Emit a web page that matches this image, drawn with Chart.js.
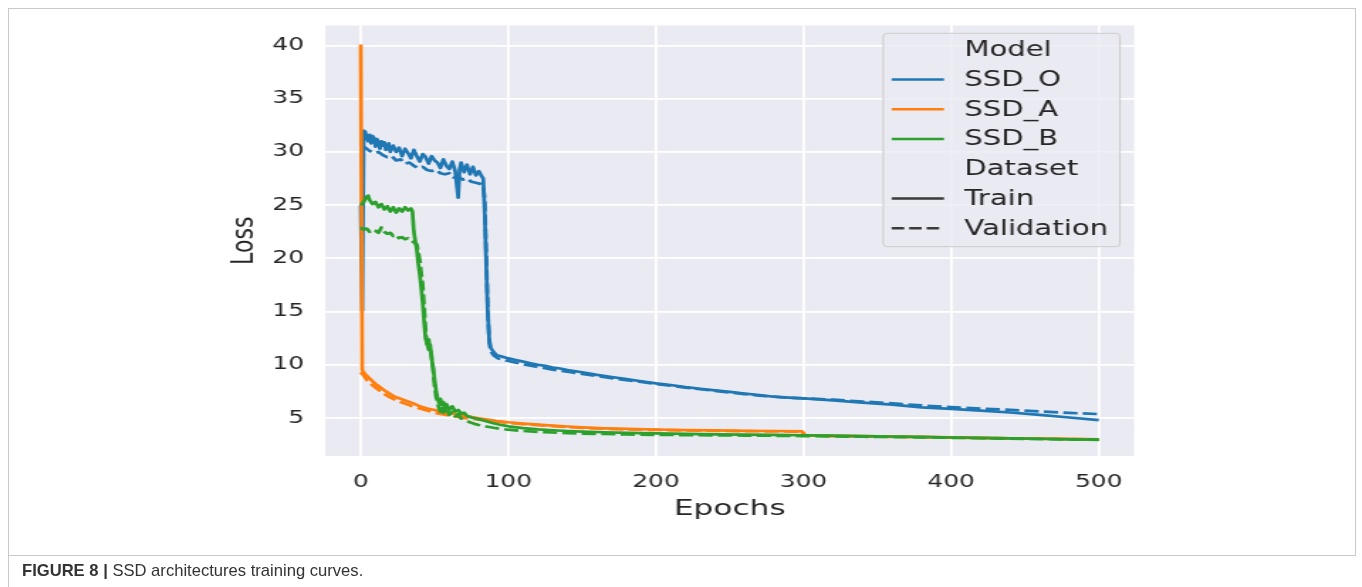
<!DOCTYPE html>
<html>
<head>
<meta charset="utf-8">
<script src="https://cdn.jsdelivr.net/npm/chart.js@4.4.1/dist/chart.umd.min.js"></script>
<style>
  body { margin: 0; background: #fff; width: 1362px; height: 587px; overflow: hidden; position: relative; }
  #frame { position: absolute; left: 8px; top: 8px; width: 1346px; height: 546px; border: 1px solid #c9c9c9; }
  #leftline { position: absolute; left: 8px; top: 555px; width: 1px; height: 32px; background: #c9c9c9; }
  #wrap { position: absolute; left: 0; top: 0; width: 959px; height: 587px; transform: scaleX(1.4202); transform-origin: 0 0; }
  #cap { position: absolute; left: 22px; top: 561px; font: 16.6px "Liberation Sans", Arial, sans-serif; color: #333; }
</style>
</head>
<body>
<div id="frame"></div>
<div id="leftline"></div>
<div id="wrap"><canvas id="lossChart"></canvas></div>
<div id="cap"><b>FIGURE 8 |</b> SSD architectures training curves.</div>
<script>
// tick labels
const xTicks = [0, 100, 200, 300, 400, 500];
const yTicks = [5, 10, 15, 20, 25, 30, 35, 40];

// SSD_O
const ssdOTrainEpochs = [0,1,2,3,4,5,6,7,8,9,10,11,12,13,14,15,16,17,18,19,20,22,24,26,28,30,32,34,36,38,40,42,44,46,48,50,52,54,56,58,60,62,64,66,67,68,70,72,74,76,78,80,82,83,84,85,86,87,88,90,92,95,100,105,110,115,120,125,130,135,140,150,160,170,180,190,200,210,220,230,240,250,260,270,280,290,300,320,340,360,380,400,420,440,460,480,500];
const ssdOTrainLoss = [25.0,15.1,32.0,31.9,31.4,31.0,31.6,30.8,31.5,31.3,30.5,31.2,30.9,30.3,31.0,30.6,30.9,30.2,30.4,30.8,30.0,30.6,30.0,30.4,29.6,30.3,29.9,29.4,30.2,29.6,29.1,29.8,29.5,28.9,29.6,29.2,29.0,28.5,29.3,28.7,28.4,29.1,28.2,25.7,28.4,29.0,28.1,28.8,27.9,28.6,27.8,28.2,27.7,27.5,24.2,19.5,15.0,12.5,11.6,11.2,10.9,10.8,10.6,10.45,10.3,10.15,10.0,9.9,9.75,9.65,9.5,9.3,9.05,8.85,8.65,8.45,8.25,8.1,7.9,7.75,7.6,7.45,7.3,7.15,7.0,6.92,6.85,6.65,6.45,6.25,6.0,5.85,5.7,5.52,5.3,5.05,4.8];
const ssdOValEpochs = [0,3,6,9,12,15,18,21,24,27,30,33,36,39,42,45,48,51,54,57,60,63,66,69,72,75,78,81,83,84,85,86,87,88,90,93,96,100,110,120,130,140,150,160,170,180,190,200,210,220,230,240,250,260,270,280,290,300,320,340,360,380,400,420,440,460,480,500];
const ssdOValLoss = [30.6,30.4,30.1,29.9,30.0,29.7,29.5,29.6,29.2,29.3,28.9,29.0,28.7,28.5,28.6,28.3,28.2,28.3,28.0,27.9,28.0,27.6,27.7,27.4,27.5,27.2,27.1,27.0,26.8,25.5,20.5,15.5,12.2,11.3,10.9,10.6,10.5,10.35,10.05,9.8,9.55,9.35,9.15,8.95,8.75,8.55,8.4,8.2,8.05,7.85,7.7,7.55,7.4,7.25,7.1,7.0,6.9,6.85,6.72,6.55,6.38,6.18,6.02,5.88,5.76,5.62,5.48,5.37];

// SSD_A
const ssdATrainEpochs = [0,1,3,5,8,11,14,17,20,23,26,29,32,36,40,45,50,55,60,65,70,75,80,86,92,100,110,120,130,140,150,165,180,200,220,240,260,280,299,301,320,340,360,380,400,420,440,460,480,500];
const ssdATrainLoss = [40.1,9.5,9.1,8.85,8.45,8.1,7.8,7.5,7.25,7.0,6.85,6.7,6.55,6.35,6.1,5.9,5.75,5.6,5.45,5.35,5.2,5.1,4.98,4.85,4.72,4.6,4.48,4.38,4.28,4.2,4.12,4.03,3.97,3.92,3.87,3.83,3.8,3.78,3.75,3.38,3.33,3.3,3.26,3.22,3.18,3.14,3.1,3.07,3.03,3.0];
const ssdAValEpochs = [0,2,4,7,10,13,16,19,22,25,28,31,35,40,45,50,55,60,65,70,80,90,100,110,120,130,140,150,165,180,200,220,240,260,280,299,301,320,340,360,380,400,420,440,460,480,500];
const ssdAValLoss = [9.3,9.0,8.6,8.2,7.85,7.55,7.25,7.0,6.8,6.6,6.45,6.3,6.1,5.9,5.7,5.5,5.35,5.25,5.12,5.0,4.85,4.7,4.55,4.43,4.33,4.24,4.16,4.08,4.0,3.93,3.88,3.84,3.8,3.77,3.74,3.72,3.35,3.3,3.27,3.23,3.2,3.16,3.12,3.08,3.05,3.01,2.98];

// SSD_B
const ssdBTrainEpochs = [0,2,4,5,6,8,10,12,14,16,18,20,22,24,26,28,30,32,34,35,36,37,38,39,40,41,42,43,44,45,46,47,48,49,50,51,52,53,54,55,56,57,58,60,62,64,66,68,70,72,75,78,81,85,90,95,100,110,120,130,140,150,165,180,200,220,240,260,280,300,320,340,360,380,400,420,440,460,480,500];
const ssdBTrainLoss = [25.0,25.3,25.8,25.9,25.5,25.1,25.3,24.8,25.1,24.6,24.9,24.4,24.8,24.3,24.7,24.4,24.8,24.5,24.7,24.4,22.5,21.6,20.8,19.5,18.5,17.2,15.8,13.9,12.4,12.0,11.4,11.9,10.6,9.8,8.6,7.6,6.9,6.4,6.8,6.2,6.5,5.9,6.3,5.8,6.1,5.6,5.75,5.4,5.5,5.2,5.05,4.95,4.85,4.7,4.5,4.35,4.22,4.05,3.93,3.85,3.78,3.72,3.66,3.6,3.55,3.5,3.47,3.44,3.41,3.38,3.34,3.3,3.26,3.22,3.17,3.13,3.09,3.05,3.0,2.97];
const ssdBValEpochs = [0,2,4,6,8,10,12,14,16,18,20,22,24,26,28,30,32,34,36,38,39,40,41,42,43,44,45,46,47,48,49,50,51,52,53,54,55,56,58,60,62,64,66,68,71,74,77,80,85,90,95,100,110,120,130,140,150,165,180,200,220,240,260,280,300,320,340,360,380,400,420,440,460,480,500];
const ssdBValLoss = [22.9,22.7,22.8,22.5,22.7,22.6,22.4,22.9,22.5,22.3,22.4,22.1,22.2,21.9,22.0,21.8,21.9,21.7,21.5,21.3,20.6,19.8,18.6,17.5,15.3,13.2,11.8,12.4,11.5,10.8,9.6,8.0,7.0,6.5,5.9,5.6,6.1,5.5,6.0,5.3,5.6,5.15,5.35,4.95,4.8,4.6,4.45,4.35,4.2,4.08,3.98,3.9,3.78,3.7,3.64,3.58,3.54,3.5,3.45,3.42,3.39,3.37,3.35,3.33,3.3,3.27,3.24,3.21,3.18,3.14,3.1,3.06,3.02,2.99,2.95];

const blue = '#1f77b4', orange = '#ff7f0e', green = '#2ca02c';
const textColor = '#262626';
const SX = 1362 / 959;

function pts(ep, loss) {
  return ep.map((e, i) => ({ x: e, y: loss[i] }));
}

function line(label, ep, loss, color, dashed, order) {
  return {
    label: label,
    data: pts(ep, loss),
    borderColor: color,
    backgroundColor: color,
    borderWidth: 2.7,
    borderDash: dashed ? [10, 3.7] : [],
    borderJoinStyle: 'round',
    pointRadius: 0,
    tension: 0,
    order: order
  };
}

const plotBg = {
  id: 'plotBg',
  beforeDraw(chart) {
    const { ctx, chartArea: a } = chart;
    ctx.save();
    ctx.fillStyle = '#EAEAF2';
    ctx.fillRect(a.left, a.top, a.right - a.left, a.bottom - a.top);
    ctx.restore();
  }
};

// seaborn-like legend with section titles
const legendItems = [
  { text: 'Model' },
  { text: 'SSD_O', color: blue },
  { text: 'SSD_A', color: orange },
  { text: 'SSD_B', color: green },
  { text: 'Dataset' },
  { text: 'Train', color: '#3a3a3a' },
  { text: 'Validation', color: '#3a3a3a', dash: true }
];

const legendBox = {
  id: 'legendBox',
  afterDraw(chart) {
    const ctx = chart.ctx;
    const bx = 883.3 / SX, by = 33.3, bw = (1120 - 883.3) / SX, bh = 213.4;
    ctx.save();
    ctx.beginPath();
    ctx.roundRect(bx, by, bw, bh, 3);
    ctx.fillStyle = 'rgba(234,234,242,0.8)';
    ctx.fill();
    ctx.strokeStyle = '#cccccc';
    ctx.lineWidth = 1;
    ctx.stroke();
    ctx.font = '20.5px "DejaVu Sans"';
    ctx.textBaseline = 'middle';
    ctx.fillStyle = textColor;
    const x0 = 891.7 / SX, x1 = 944 / SX, tx = 964.3 / SX;
    legendItems.forEach((it, i) => {
      const y = 49.8 + i * 29.75;
      if (it.color) {
        ctx.beginPath();
        ctx.setLineDash(it.dash ? [8.8, 3.5] : []);
        ctx.strokeStyle = it.color;
        ctx.lineWidth = 2.4;
        ctx.moveTo(x0, y);
        ctx.lineTo(x1, y);
        ctx.stroke();
      }
      ctx.setLineDash([]);
      ctx.fillText(it.text, tx, y + 1);
    });
    ctx.restore();
  }
};

const config = {
  type: 'line',
  data: {
    datasets: [
      line('SSD_O Train', ssdOTrainEpochs, ssdOTrainLoss, blue, false, 6),
      line('SSD_O Validation', ssdOValEpochs, ssdOValLoss, blue, true, 5),
      line('SSD_A Train', ssdATrainEpochs, ssdATrainLoss, orange, false, 4),
      line('SSD_A Validation', ssdAValEpochs, ssdAValLoss, orange, true, 3),
      line('SSD_B Train', ssdBTrainEpochs, ssdBTrainLoss, green, false, 2),
      line('SSD_B Validation', ssdBValEpochs, ssdBValLoss, green, true, 1)
    ]
  },
  options: {
    responsive: true,
    maintainAspectRatio: false,
    animation: false,
    layout: { padding: { left: 150, right: 160.4, top: 25, bottom: 64 } },
    plugins: {
      legend: { display: false },
      tooltip: { enabled: false }
    },
    scales: {
      x: {
        type: 'linear',
        min: -24,
        max: 524,
        afterBuildTicks: s => { s.ticks = xTicks.map(v => ({ value: v })); },
        afterFit: s => { s.height = 67; },
        grid: { color: '#ffffff', lineWidth: 1.8, drawTicks: false },
        border: { display: false },
        ticks: { padding: 16, color: textColor, maxRotation: 0, font: { family: 'DejaVu Sans', size: 17.5 } },
        title: { display: true, text: 'Epochs', color: textColor, font: { family: 'DejaVu Sans', size: 22 }, padding: { top: 0, bottom: 1 } }
      },
      y: {
        type: 'linear',
        min: 1.43,
        max: 41.88,
        afterBuildTicks: s => { s.ticks = yTicks.map(v => ({ value: v })); },
        afterFit: s => { s.width = 79.05; },
        grid: { color: '#ffffff', lineWidth: 1.8, drawTicks: false },
        border: { display: false },
        ticks: { padding: 15, color: textColor, font: { family: 'DejaVu Sans', size: 17.5 } },
        title: { display: true, text: 'Loss', color: textColor, font: { family: 'DejaVu Sans', size: 22 }, padding: { top: 9, bottom: 0 } }
      }
    }
  },
  plugins: [plotBg, legendBox]
};

const lossChart = new Chart(document.getElementById('lossChart').getContext('2d'), config);
</script>
</body>
</html>
